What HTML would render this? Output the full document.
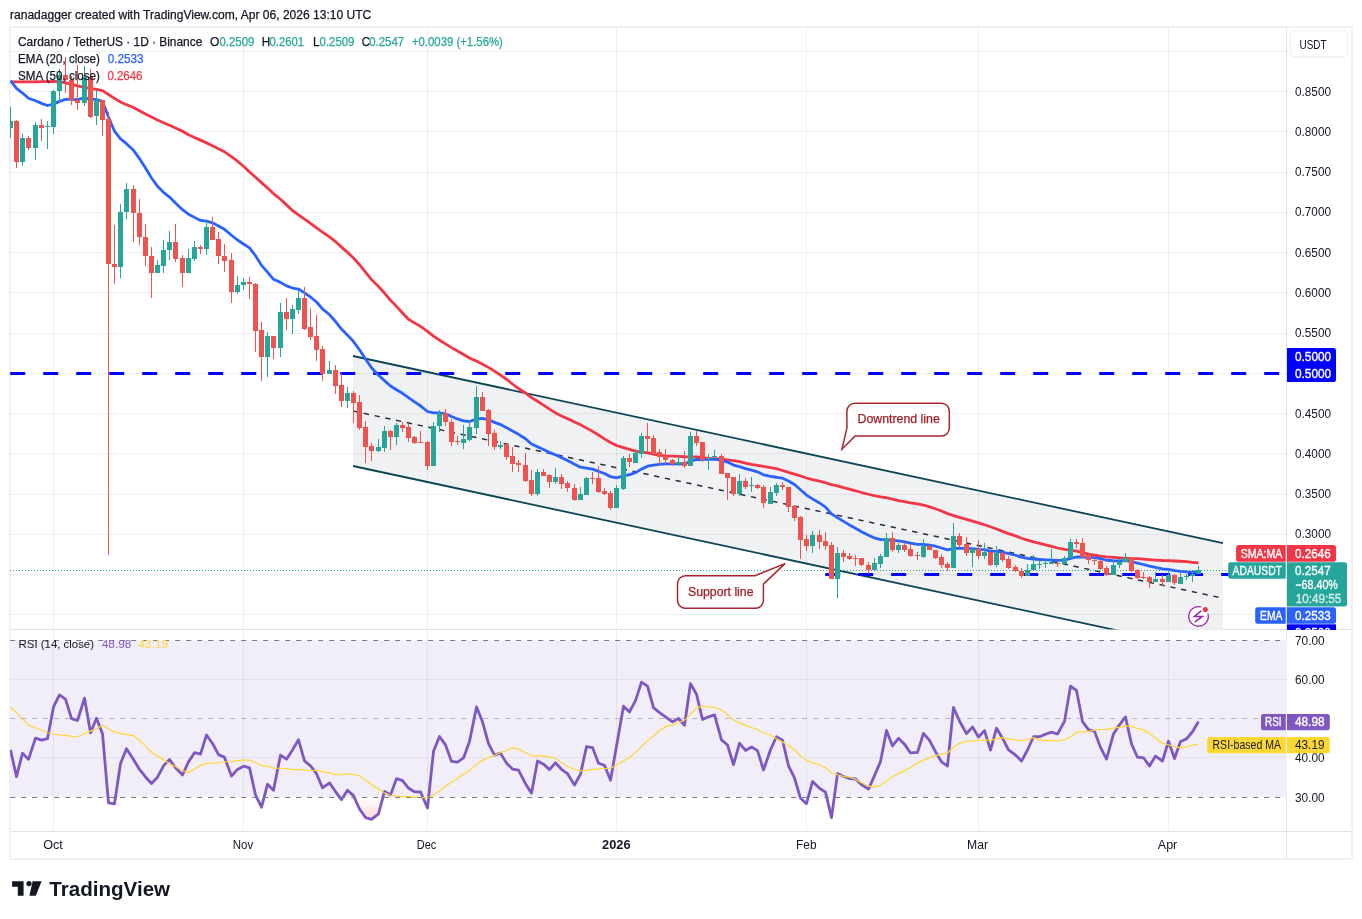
<!DOCTYPE html>
<html><head><meta charset="utf-8"><title>ADAUSDT chart</title>
<style>html,body{margin:0;padding:0;background:#fff;width:1362px;height:919px;overflow:hidden}svg{display:block;will-change:transform}</style>
</head><body><svg width="1362" height="919" viewBox="0 0 1362 919"><defs><clipPath id="cm"><rect x="10" y="27.5" width="1277" height="602.0"/></clipPath><clipPath id="cr"><rect x="10" y="630.5" width="1277" height="200.0"/></clipPath><linearGradient id="os" gradientUnits="userSpaceOnUse" x1="0" y1="797" x2="0" y2="914.75"><stop offset="0" stop-color="#f23645" stop-opacity="0"/><stop offset="1" stop-color="#f23645" stop-opacity="1"/></linearGradient></defs><path d="M1286.5 27V859M10 629.5H1351M10 831.5H1351" stroke="#dfe2e8" stroke-width="1" fill="none"/><rect x="10" y="27" width="1342" height="832" fill="none" stroke="#f1f1f2" stroke-width="2"/><g clip-path="url(#cm)"><path d="M353 356L1223 543.22L1223 653.22L353 466Z" fill="#f0f1f3"/></g><rect x="10" y="640.5" width="1277" height="156.5" fill="#f2eef9"/><path d="M10 51.5H1287 M10 91.5H1287 M10 131.5H1287 M10 172.5H1287 M10 212.5H1287 M10 252.5H1287 M10 292.5H1287 M10 333.5H1287 M10 373.5H1287 M10 413.5H1287 M10 453.5H1287 M10 494.5H1287 M10 534.5H1287 M10 574.5H1287 M10 614.5H1287 M53.5 27.5V629.5 M53.5 630.5V830.5 M243.5 27.5V629.5 M243.5 630.5V830.5 M427.5 27.5V629.5 M427.5 630.5V830.5 M616.5 27.5V629.5 M616.5 630.5V830.5 M806.5 27.5V629.5 M806.5 630.5V830.5 M978.5 27.5V629.5 M978.5 630.5V830.5 M1168.5 27.5V629.5 M1168.5 630.5V830.5 M10 679.5H1287 M10 757.5H1287" stroke="rgba(42,46,57,0.065)" stroke-width="1" fill="none"/><g clip-path="url(#cm)"><path d="M353 356L1223 543.22M353 466L1223 653.22" stroke="#0a4654" stroke-width="1.8" fill="none"/><path d="M353 411L1220 597.58" stroke="#2a2e39" stroke-width="1.5" stroke-dasharray="5.3 5.7" fill="none"/><path d="M10.2 373.5H1287" stroke="#0000ff" stroke-width="3" stroke-dasharray="15 18" fill="none"/><path d="M825.2 574.5H1287" stroke="#0000ff" stroke-width="3" stroke-dasharray="15 18" fill="none"/><path d="M10 570.5H1287" stroke="#26a69a" stroke-width="1" stroke-dasharray="1 2" fill="none"/><path d="M10.5 81.9 L16.5 81.9 L22.5 81.9 L28.5 81.88 L35.5 81.79 L41.5 81.69 L47.5 81.59 L53.5 81.34 L59.5 81.7 L65.5 82.89 L71.5 84.34 L77.5 85.82 L84.5 87.26 L90.5 88.39 L96.5 89.39 L102.5 90.69 L108.5 94.49 L114.5 98.35 L120.5 102 L126.5 104.67 L133.5 107.5 L139.5 110.77 L145.5 114.02 L151.5 117.05 L157.5 119.95 L163.5 122.67 L169.5 125.32 L175.5 127.97 L182.5 131.33 L188.5 134.75 L194.5 137.43 L200.5 140.11 L206.5 142.86 L212.5 145.66 L218.5 148.75 L224.5 151.83 L231.5 156.55 L237.5 161.2 L243.5 166.27 L249.5 171.95 L255.5 177.19 L261.5 182.62 L267.5 188.07 L273.5 193.57 L280.5 199.22 L286.5 204.87 L292.5 210.5 L298.5 214.86 L304.5 219.22 L310.5 223.36 L316.5 227.93 L322.5 232.19 L329.5 236.83 L335.5 241.59 L341.5 247.11 L347.5 252.42 L353.5 257.95 L359.5 264.69 L365.5 272.11 L371.5 279.54 L378.5 286.47 L384.5 293.03 L390.5 300.23 L396.5 306.39 L402.5 312.95 L408.5 319.31 L414.5 322.88 L420.5 326.4 L427.5 331.46 L433.5 336.21 L439.5 340.2 L445.5 343.91 L451.5 347.61 L457.5 351 L463.5 354.49 L469.5 358.02 L476.5 361.12 L482.5 364.16 L488.5 367.37 L494.5 371.15 L500.5 375.11 L506.5 379.26 L512.5 384 L518.5 388.51 L525.5 393 L531.5 397.66 L537.5 401.27 L543.5 405.08 L549.5 409.07 L555.5 412.93 L561.5 415.99 L567.5 418.62 L574.5 421.9 L580.5 424.83 L586.5 428.15 L592.5 431.35 L598.5 435.01 L604.5 438.92 L610.5 442.5 L616.5 445.52 L623.5 447.69 L629.5 449.45 L635.5 451.11 L641.5 452.12 L647.5 452.88 L653.5 454.09 L659.5 455.19 L665.5 455.83 L672.5 456.17 L678.5 456.39 L684.5 456.77 L690.5 456.87 L696.5 456.99 L702.5 457.68 L708.5 458.28 L714.5 458.65 L721.5 459.26 L727.5 459.96 L733.5 460.52 L739.5 461.62 L745.5 463.1 L751.5 464.35 L757.5 465.27 L763.5 466.48 L770.5 467.54 L776.5 468.69 L782.5 470.5 L788.5 472.42 L794.5 474.11 L800.5 475.96 L806.5 477.98 L812.5 479.54 L819.5 481.1 L825.5 482.72 L831.5 484.67 L837.5 485.87 L843.5 487.56 L849.5 489.22 L855.5 490.77 L861.5 492.53 L868.5 494.25 L874.5 495.74 L880.5 496.86 L886.5 497.74 L892.5 499.18 L898.5 500.51 L904.5 501.66 L910.5 502.9 L917.5 503.86 L923.5 505.02 L929.5 506.86 L935.5 508.77 L941.5 511 L947.5 513.63 L953.5 515.58 L959.5 517.4 L966.5 519.31 L972.5 521.09 L978.5 522.93 L984.5 524.74 L990.5 526.72 L996.5 529.06 L1002.5 531.4 L1008.5 533.57 L1015.5 535.84 L1021.5 538.22 L1027.5 540.16 L1033.5 541.89 L1039.5 543.3 L1045.5 544.94 L1051.5 546.44 L1057.5 548 L1064.5 549.41 L1070.5 550.19 L1076.5 551.21 L1082.5 552.65 L1088.5 554.11 L1094.5 555.2 L1100.5 556.22 L1106.5 556.92 L1113.5 557.31 L1119.5 557.84 L1125.5 558.17 L1131.5 558.66 L1137.5 558.64 L1143.5 559.13 L1149.5 559.65 L1155.5 560.06 L1162.5 560.51 L1168.5 560.71 L1174.5 560.98 L1180.5 561.26 L1186.5 561.67 L1192.5 562.39 L1198.5 562.8" stroke="#f23645" stroke-width="2.8" fill="none" stroke-linejoin="round"/><path d="M10.5 80.6 L16.5 88.31 L22.5 93.06 L28.5 98.24 L35.5 100.79 L41.5 103.34 L47.5 105.51 L53.5 104.12 L59.5 101.38 L65.5 99.31 L71.5 99.42 L77.5 99.73 L84.5 97.56 L90.5 99.42 L96.5 99.46 L102.5 101.39 L108.5 116.92 L114.5 131.22 L120.5 138.94 L126.5 143.71 L133.5 150.35 L139.5 158.63 L145.5 167.92 L151.5 177.95 L157.5 186.24 L163.5 192.35 L169.5 197.09 L175.5 202.95 L182.5 209.64 L188.5 214.24 L194.5 217.37 L200.5 220.41 L206.5 221.05 L212.5 222.81 L218.5 226.02 L224.5 229.32 L231.5 235.25 L237.5 240 L243.5 244.01 L249.5 247.85 L255.5 255.74 L261.5 265.37 L267.5 272.09 L273.5 279.29 L280.5 282.4 L286.5 285.86 L292.5 288.05 L298.5 289.01 L304.5 292.82 L310.5 297.02 L316.5 302.03 L322.5 308.94 L329.5 314.77 L335.5 321.51 L341.5 329.05 L347.5 335.15 L353.5 341.57 L359.5 349.81 L365.5 359.03 L371.5 367.77 L378.5 375.31 L384.5 380.61 L390.5 385.96 L396.5 389.69 L402.5 393.31 L408.5 397.55 L414.5 401.88 L420.5 405.79 L427.5 411.49 L433.5 412.88 L439.5 412.92 L445.5 413.82 L451.5 416.47 L457.5 418.94 L463.5 420.89 L469.5 421.5 L476.5 419.16 L482.5 418.36 L488.5 419.8 L494.5 422.38 L500.5 424.56 L506.5 427.63 L512.5 431.08 L518.5 434.32 L525.5 438.78 L531.5 444 L537.5 446.68 L543.5 449.43 L549.5 452.5 L555.5 454.85 L561.5 457.61 L567.5 460.53 L574.5 464.3 L580.5 467.15 L586.5 468.17 L592.5 469.16 L598.5 471.34 L604.5 473.48 L610.5 476.74 L616.5 477.82 L623.5 475.94 L629.5 474.66 L635.5 472.61 L641.5 469.13 L647.5 466.23 L653.5 465.04 L659.5 464.3 L665.5 463.92 L672.5 463.91 L678.5 463.69 L684.5 463.9 L690.5 461.25 L696.5 459.48 L702.5 459.49 L708.5 459.32 L714.5 459.04 L721.5 460.44 L727.5 462.07 L733.5 465.09 L739.5 466.63 L745.5 468.57 L751.5 470.14 L757.5 471.81 L763.5 474.78 L770.5 476.45 L776.5 477.26 L782.5 478.21 L788.5 480.94 L794.5 484.45 L800.5 489.7 L806.5 495.07 L812.5 498.85 L819.5 502.95 L825.5 507.06 L831.5 513.9 L837.5 517.65 L843.5 521.36 L849.5 524.92 L855.5 528.18 L861.5 531.69 L868.5 535.31 L874.5 537.96 L880.5 539.68 L886.5 539.53 L892.5 540.51 L898.5 540.95 L904.5 541.77 L910.5 543.12 L917.5 544.32 L923.5 544.47 L929.5 545.03 L935.5 546.23 L941.5 547.99 L947.5 549.87 L953.5 548.56 L959.5 548.18 L966.5 548.65 L972.5 548.7 L978.5 549.37 L984.5 549.64 L990.5 551.11 L996.5 551.3 L1002.5 552.09 L1008.5 553.58 L1015.5 555.26 L1021.5 557.2 L1027.5 558.47 L1033.5 559.01 L1039.5 559.51 L1045.5 559.85 L1051.5 560.07 L1057.5 560.36 L1064.5 560.16 L1070.5 558.42 L1076.5 557 L1082.5 556.96 L1088.5 557.29 L1094.5 557.66 L1100.5 558.72 L1106.5 560.26 L1113.5 560.74 L1119.5 560.81 L1125.5 560.56 L1131.5 561.53 L1137.5 563.08 L1143.5 564.51 L1149.5 566.22 L1155.5 567.46 L1162.5 568.81 L1168.5 569.41 L1174.5 570.72 L1180.5 571.35 L1186.5 571.83 L1192.5 572.03 L1198.5 571.89" stroke="#2962ff" stroke-width="2.8" fill="none" stroke-linejoin="round"/><path d="M10 107h1v31h-1ZM22 134h1v32h-1ZM35 122h1v38h-1ZM47 121h1v28h-1ZM53 90h1v44h-1ZM59 69h1v33h-1ZM84 66h1v40h-1ZM96 90h1v35h-1ZM120 204h1v74h-1ZM126 183h1v36h-1ZM157 260h1v13h-1ZM163 240h1v33h-1ZM169 231h1v29h-1ZM188 249h1v24h-1ZM194 241h1v20h-1ZM206 221h1v34h-1ZM237 276h1v18h-1ZM243 278h1v12h-1ZM267 332h1v45h-1ZM280 303h1v54h-1ZM292 305h1v29h-1ZM298 290h1v24h-1ZM329 361h1v13h-1ZM347 387h1v21h-1ZM378 439h1v13h-1ZM384 426h1v26h-1ZM396 423h1v22h-1ZM433 422h1v44h-1ZM439 410h1v22h-1ZM463 425h1v24h-1ZM469 420h1v21h-1ZM476 386h1v48h-1ZM500 441h1v8h-1ZM537 469h1v27h-1ZM555 468h1v16h-1ZM580 487h1v13h-1ZM586 477h1v18h-1ZM616 485h1v23h-1ZM623 456h1v34h-1ZM635 449h1v14h-1ZM641 433h1v25h-1ZM678 456h1v10h-1ZM690 432h1v34h-1ZM708 454h1v16h-1ZM714 450h1v8h-1ZM739 474h1v22h-1ZM751 477h1v15h-1ZM770 487h1v17h-1ZM776 483h1v13h-1ZM812 531h1v22h-1ZM837 547h1v51h-1ZM874 558h1v12h-1ZM880 554h1v14h-1ZM886 533h1v24h-1ZM898 543h1v10h-1ZM923 539h1v19h-1ZM953 523h1v45h-1ZM972 547h1v20h-1ZM984 543h1v16h-1ZM996 546h1v21h-1ZM1027 564h1v12h-1ZM1033 555h1v15h-1ZM1039 560h1v9h-1ZM1045 560h1v8h-1ZM1051 549h1v15h-1ZM1064 556h1v8h-1ZM1070 539h1v19h-1ZM1113 560h1v15h-1ZM1119 559h1v9h-1ZM1125 553h1v9h-1ZM1155 572h1v10h-1ZM1168 570h1v12h-1ZM1180 573h1v11h-1ZM1186 574h1v6h-1ZM1192 572h1v10h-1ZM1198 566h1v8h-1Z" fill="#26a69a"/><path d="M16 120h1v48h-1ZM28 136h1v14h-1ZM41 119h1v22h-1ZM65 57h1v36h-1ZM71 76h1v29h-1ZM77 65h1v45h-1ZM90 69h1v49h-1ZM102 100h1v36h-1ZM108 112h1v443h-1ZM114 225h1v59h-1ZM133 185h1v57h-1ZM139 199h1v46h-1ZM145 224h1v42h-1ZM151 247h1v51h-1ZM175 224h1v38h-1ZM182 255h1v32h-1ZM200 245h1v9h-1ZM212 217h1v23h-1ZM218 232h1v32h-1ZM224 244h1v28h-1ZM231 253h1v50h-1ZM249 277h1v22h-1ZM255 283h1v69h-1ZM261 322h1v59h-1ZM273 336h1v23h-1ZM286 298h1v32h-1ZM304 287h1v43h-1ZM310 308h1v32h-1ZM316 315h1v46h-1ZM322 346h1v35h-1ZM335 365h1v29h-1ZM341 373h1v34h-1ZM353 391h1v32h-1ZM359 395h1v35h-1ZM365 421h1v42h-1ZM371 443h1v18h-1ZM390 430h1v20h-1ZM402 422h1v10h-1ZM408 424h1v18h-1ZM414 436h1v8h-1ZM420 431h1v12h-1ZM427 441h1v29h-1ZM445 409h1v17h-1ZM451 419h1v27h-1ZM457 436h1v9h-1ZM482 392h1v19h-1ZM488 409h1v37h-1ZM494 430h1v20h-1ZM506 444h1v16h-1ZM512 447h1v25h-1ZM518 460h1v12h-1ZM525 453h1v29h-1ZM531 470h1v26h-1ZM543 469h1v7h-1ZM549 474h1v14h-1ZM561 474h1v15h-1ZM567 481h1v11h-1ZM574 484h1v17h-1ZM592 472h1v12h-1ZM598 466h1v27h-1ZM604 488h1v7h-1ZM610 491h1v19h-1ZM629 454h1v13h-1ZM647 423h1v29h-1ZM653 435h1v19h-1ZM659 449h1v17h-1ZM665 449h1v15h-1ZM672 459h1v7h-1ZM684 451h1v17h-1ZM696 431h1v15h-1ZM702 442h1v20h-1ZM721 454h1v20h-1ZM727 473h1v27h-1ZM733 477h1v19h-1ZM745 478h1v11h-1ZM757 484h1v5h-1ZM763 485h1v23h-1ZM782 482h1v8h-1ZM788 487h1v25h-1ZM794 505h1v16h-1ZM800 516h1v43h-1ZM806 535h1v16h-1ZM819 530h1v19h-1ZM825 532h1v18h-1ZM831 542h1v37h-1ZM843 550h1v12h-1ZM849 553h1v7h-1ZM855 555h1v11h-1ZM861 558h1v8h-1ZM868 562h1v12h-1ZM892 532h1v20h-1ZM904 542h1v10h-1ZM910 544h1v13h-1ZM917 552h1v8h-1ZM929 545h1v5h-1ZM935 550h1v9h-1ZM941 554h1v14h-1ZM947 562h1v9h-1ZM959 533h1v15h-1ZM966 537h1v19h-1ZM978 540h1v19h-1ZM990 552h1v14h-1ZM1002 552h1v10h-1ZM1008 556h1v13h-1ZM1015 565h1v7h-1ZM1021 568h1v10h-1ZM1057 561h1v6h-1ZM1076 539h1v9h-1ZM1082 538h1v20h-1ZM1088 553h1v11h-1ZM1094 556h1v9h-1ZM1100 560h1v10h-1ZM1106 566h1v10h-1ZM1131 558h1v14h-1ZM1137 569h1v10h-1ZM1143 572h1v7h-1ZM1149 576h1v12h-1ZM1162 575h1v11h-1ZM1174 574h1v11h-1Z" fill="#ef5350"/><path d="M8 121h5v7h-5ZM20 138h5v24h-5ZM33 125h5v23h-5ZM45 126h5v1h-5ZM51 91h5v36h-5ZM57 75h5v16h-5ZM82 77h5v26h-5ZM94 100h5v16h-5ZM118 212h5v55h-5ZM124 189h5v23h-5ZM155 265h5v8h-5ZM161 250h5v16h-5ZM167 242h5v8h-5ZM186 258h5v15h-5ZM192 247h5v12h-5ZM204 227h5v22h-5ZM235 285h5v7h-5ZM241 282h5v3h-5ZM265 336h5v21h-5ZM278 312h5v36h-5ZM290 309h5v10h-5ZM296 298h5v12h-5ZM327 370h5v4h-5ZM345 393h5v8h-5ZM376 447h5v4h-5ZM382 431h5v17h-5ZM394 425h5v12h-5ZM431 426h5v40h-5ZM437 413h5v13h-5ZM461 439h5v4h-5ZM467 427h5v13h-5ZM474 397h5v31h-5ZM498 445h5v2h-5ZM535 472h5v22h-5ZM553 477h5v5h-5ZM578 494h5v6h-5ZM584 478h5v17h-5ZM614 488h5v20h-5ZM621 458h5v31h-5ZM633 453h5v10h-5ZM639 436h5v18h-5ZM676 462h5v2h-5ZM688 436h5v30h-5ZM706 458h5v1h-5ZM712 456h5v1h-5ZM737 481h5v13h-5ZM749 485h5v1h-5ZM768 492h5v12h-5ZM774 485h5v8h-5ZM810 535h5v11h-5ZM835 553h5v26h-5ZM872 563h5v7h-5ZM878 556h5v8h-5ZM884 538h5v19h-5ZM896 545h5v5h-5ZM921 546h5v11h-5ZM951 536h5v32h-5ZM970 549h5v4h-5ZM982 552h5v4h-5ZM994 553h5v12h-5ZM1025 570h5v6h-5ZM1031 564h5v6h-5ZM1037 564h5v1h-5ZM1043 563h5v1h-5ZM1049 562h5v2h-5ZM1062 558h5v6h-5ZM1068 542h5v16h-5ZM1111 565h5v10h-5ZM1117 562h5v3h-5ZM1123 558h5v4h-5ZM1153 579h5v3h-5ZM1166 575h5v7h-5ZM1178 577h5v7h-5ZM1184 576h5v1h-5ZM1190 574h5v2h-5ZM1196 570h5v4h-5Z" fill="#26a69a"/><path d="M14 121h5v41h-5ZM26 138h5v10h-5ZM39 125h5v3h-5ZM63 75h5v5h-5ZM69 80h5v20h-5ZM75 100h5v3h-5ZM88 77h5v40h-5ZM100 100h5v20h-5ZM106 119h5v145h-5ZM112 264h5v3h-5ZM131 189h5v24h-5ZM137 213h5v24h-5ZM143 237h5v19h-5ZM149 256h5v17h-5ZM173 242h5v17h-5ZM180 258h5v15h-5ZM198 247h5v2h-5ZM210 227h5v13h-5ZM216 239h5v17h-5ZM222 256h5v5h-5ZM229 260h5v32h-5ZM247 282h5v2h-5ZM253 284h5v47h-5ZM259 330h5v27h-5ZM271 336h5v12h-5ZM284 312h5v7h-5ZM302 298h5v31h-5ZM308 327h5v10h-5ZM314 336h5v14h-5ZM320 349h5v25h-5ZM333 370h5v16h-5ZM339 385h5v16h-5ZM351 393h5v10h-5ZM357 402h5v26h-5ZM363 427h5v20h-5ZM369 446h5v5h-5ZM388 431h5v6h-5ZM400 425h5v3h-5ZM406 427h5v11h-5ZM412 437h5v6h-5ZM418 442h5v1h-5ZM425 442h5v24h-5ZM443 413h5v9h-5ZM449 422h5v20h-5ZM455 441h5v1h-5ZM480 397h5v14h-5ZM486 410h5v24h-5ZM492 433h5v14h-5ZM504 444h5v13h-5ZM510 456h5v8h-5ZM516 463h5v2h-5ZM523 465h5v16h-5ZM529 480h5v14h-5ZM541 472h5v4h-5ZM547 475h5v7h-5ZM559 477h5v7h-5ZM565 483h5v5h-5ZM572 488h5v12h-5ZM590 478h5v1h-5ZM596 478h5v14h-5ZM602 491h5v3h-5ZM608 493h5v15h-5ZM627 458h5v4h-5ZM645 436h5v3h-5ZM651 438h5v16h-5ZM657 452h5v5h-5ZM663 456h5v4h-5ZM670 460h5v4h-5ZM682 462h5v4h-5ZM694 436h5v7h-5ZM700 442h5v18h-5ZM719 456h5v18h-5ZM725 473h5v5h-5ZM731 477h5v17h-5ZM743 481h5v6h-5ZM755 485h5v3h-5ZM761 487h5v16h-5ZM780 485h5v2h-5ZM786 487h5v20h-5ZM792 506h5v12h-5ZM798 517h5v23h-5ZM804 539h5v7h-5ZM817 535h5v7h-5ZM823 541h5v5h-5ZM829 545h5v34h-5ZM841 553h5v4h-5ZM847 556h5v3h-5ZM853 558h5v1h-5ZM859 558h5v7h-5ZM866 565h5v5h-5ZM890 538h5v12h-5ZM902 545h5v5h-5ZM908 549h5v7h-5ZM915 555h5v1h-5ZM927 546h5v4h-5ZM933 550h5v8h-5ZM939 557h5v8h-5ZM945 564h5v4h-5ZM957 536h5v9h-5ZM964 544h5v9h-5ZM976 549h5v7h-5ZM988 552h5v13h-5ZM1000 553h5v7h-5ZM1006 559h5v9h-5ZM1013 567h5v4h-5ZM1019 571h5v5h-5ZM1055 563h5v1h-5ZM1074 542h5v2h-5ZM1080 543h5v14h-5ZM1086 555h5v5h-5ZM1092 560h5v1h-5ZM1098 561h5v8h-5ZM1104 568h5v7h-5ZM1129 558h5v13h-5ZM1135 570h5v8h-5ZM1141 577h5v1h-5ZM1147 577h5v5h-5ZM1160 579h5v3h-5ZM1172 575h5v8h-5Z" fill="#ef5350"/></g><path d="M855 403.2H941.3a8 8 0 0 1 8 8V428.1a8 8 0 0 1 -8 8H855L842 449.2L846.9 427.9V411.2a8 8 0 0 1 8 -8Z" fill="#fff" stroke="#a8262c" stroke-width="1.5"/><g font-family='"Liberation Sans", sans-serif' stroke="#a11f26" stroke-width="0.25"><text x="857.5" y="423" font-size="12.2" fill="#a11f26" textLength="82.3" lengthAdjust="spacingAndGlyphs">Downtrend line</text></g><path d="M685.5 575.7H755L785 563.6L763.4 584.1V600.3a8 8 0 0 1 -8 8H685.5a8 8 0 0 1 -8 -8V583.7a8 8 0 0 1 8 -8Z" fill="#fff" stroke="#a8262c" stroke-width="1.5"/><g font-family='"Liberation Sans", sans-serif' stroke="#a11f26" stroke-width="0.25"><text x="688" y="596" font-size="12.2" fill="#a11f26" textLength="65.5" lengthAdjust="spacingAndGlyphs">Support line</text></g><g><circle cx="1198.5" cy="616.4" r="11" fill="#fff"/><path d="M1208.01 614.05A9.8 9.8 0 1 1 1200.75 606.86" stroke="#9c27b0" stroke-width="1.35" stroke-linecap="round" fill="none"/><circle cx="1205.35" cy="609.45" r="2.55" fill="#f23645"/><path d="M1200.8 611.2L1194.5 616.45H1202.3L1195.3 621.7" stroke="#9c27b0" stroke-width="1.6" stroke-linejoin="miter" stroke-linecap="round" fill="none"/></g><g clip-path="url(#cr)"><clipPath id="below30"><rect x="10" y="797" width="1277" height="40"/></clipPath><path d="M10.5 749.9 L16.5 776.6 L22.5 753.22 L28.5 759.37 L35.5 738.18 L41.5 740.12 L47.5 738.64 L53.5 706.95 L59.5 694.96 L65.5 699.05 L71.5 718.59 L77.5 720.5 L84.5 698.08 L90.5 732.79 L96.5 718.21 L102.5 733.74 L108.5 802.97 L114.5 803.79 L120.5 763.57 L126.5 748.76 L133.5 759.51 L139.5 769.43 L145.5 776.94 L151.5 783.5 L157.5 777.19 L163.5 765.91 L169.5 759.48 L175.5 767.78 L182.5 774.91 L188.5 761.88 L194.5 752.71 L200.5 754.05 L206.5 734.97 L212.5 743.45 L218.5 754.61 L224.5 757.33 L231.5 776.04 L237.5 769.39 L243.5 766.21 L249.5 767.77 L255.5 795.05 L261.5 807.17 L267.5 784.29 L273.5 790.36 L280.5 755.05 L286.5 759.19 L292.5 749.89 L298.5 739.76 L304.5 760.86 L310.5 765.81 L316.5 773.71 L322.5 787.78 L329.5 782.92 L335.5 791.55 L341.5 799.62 L347.5 790.18 L353.5 795.63 L359.5 809.03 L365.5 817.56 L371.5 819.44 L378.5 813.8 L384.5 791.36 L390.5 794.98 L396.5 778.64 L402.5 780.56 L408.5 788.05 L414.5 791.86 L420.5 791.86 L427.5 808.02 L433.5 751.32 L439.5 736.49 L445.5 744.91 L451.5 761.37 L457.5 762.04 L463.5 757.91 L469.5 741.54 L476.5 706.94 L482.5 721.77 L488.5 743.65 L494.5 755.1 L500.5 753.12 L506.5 763.13 L512.5 769.05 L518.5 770.18 L525.5 783.72 L531.5 793.17 L537.5 761.03 L543.5 764.16 L549.5 769.62 L555.5 762.73 L561.5 769.27 L567.5 773.73 L574.5 784.95 L580.5 774.16 L586.5 746.71 L592.5 747.55 L598.5 763.22 L604.5 765.24 L610.5 780.2 L616.5 746.18 L623.5 706.19 L629.5 711.91 L635.5 700.65 L641.5 682.16 L647.5 686.06 L653.5 707.66 L659.5 712.59 L665.5 716.82 L672.5 721.9 L678.5 718.49 L684.5 725.29 L690.5 683.57 L696.5 694.22 L702.5 719.53 L708.5 716.84 L714.5 714.91 L721.5 739.83 L727.5 744.97 L733.5 764.7 L739.5 743.2 L745.5 750.42 L751.5 747.08 L757.5 750.62 L763.5 770 L770.5 749.77 L776.5 736.73 L782.5 740.22 L788.5 765.8 L794.5 777.98 L800.5 798.3 L806.5 803.6 L812.5 781.5 L819.5 788.23 L825.5 792.17 L831.5 817.62 L837.5 773.59 L843.5 776.52 L849.5 778.5 L855.5 778.78 L861.5 784.65 L868.5 789.12 L874.5 775.66 L880.5 761.66 L886.5 730.44 L892.5 745.94 L898.5 738.25 L904.5 744.15 L910.5 752.96 L917.5 752.37 L923.5 733.36 L929.5 740.33 L935.5 751.67 L941.5 761.81 L947.5 766.07 L953.5 707.48 L959.5 720.97 L966.5 733.66 L972.5 727.04 L978.5 737.03 L984.5 730.6 L990.5 750.17 L996.5 728.24 L1002.5 738.15 L1008.5 749.91 L1015.5 755 L1021.5 761.1 L1027.5 749.99 L1033.5 736.71 L1039.5 736.71 L1045.5 734.21 L1051.5 732.06 L1057.5 734.04 L1064.5 721.38 L1070.5 686.27 L1076.5 690.45 L1082.5 721.61 L1088.5 729.64 L1094.5 731.37 L1100.5 747.37 L1106.5 759.11 L1113.5 733.95 L1119.5 724.78 L1125.5 716.89 L1131.5 744.01 L1137.5 757.22 L1143.5 757.77 L1149.5 766.01 L1155.5 756.1 L1162.5 760.99 L1168.5 741.27 L1174.5 758.58 L1180.5 741.43 L1186.5 738.84 L1192.5 731.75 L1198.5 721.51 L1198.5 797 L10.5 797Z" fill="url(#os)" clip-path="url(#below30)"/></g><g clip-path="url(#cr)"><path d="M10.5 749.9 L16.5 776.6 L22.5 753.22 L28.5 759.37 L35.5 738.18 L41.5 740.12 L47.5 738.64 L53.5 706.95 L59.5 694.96 L65.5 699.05 L71.5 718.59 L77.5 720.5 L84.5 698.08 L90.5 732.79 L96.5 718.21 L102.5 733.74 L108.5 802.97 L114.5 803.79 L120.5 763.57 L126.5 748.76 L133.5 759.51 L139.5 769.43 L145.5 776.94 L151.5 783.5 L157.5 777.19 L163.5 765.91 L169.5 759.48 L175.5 767.78 L182.5 774.91 L188.5 761.88 L194.5 752.71 L200.5 754.05 L206.5 734.97 L212.5 743.45 L218.5 754.61 L224.5 757.33 L231.5 776.04 L237.5 769.39 L243.5 766.21 L249.5 767.77 L255.5 795.05 L261.5 807.17 L267.5 784.29 L273.5 790.36 L280.5 755.05 L286.5 759.19 L292.5 749.89 L298.5 739.76 L304.5 760.86 L310.5 765.81 L316.5 773.71 L322.5 787.78 L329.5 782.92 L335.5 791.55 L341.5 799.62 L347.5 790.18 L353.5 795.63 L359.5 809.03 L365.5 817.56 L371.5 819.44 L378.5 813.8 L384.5 791.36 L390.5 794.98 L396.5 778.64 L402.5 780.56 L408.5 788.05 L414.5 791.86 L420.5 791.86 L427.5 808.02 L433.5 751.32 L439.5 736.49 L445.5 744.91 L451.5 761.37 L457.5 762.04 L463.5 757.91 L469.5 741.54 L476.5 706.94 L482.5 721.77 L488.5 743.65 L494.5 755.1 L500.5 753.12 L506.5 763.13 L512.5 769.05 L518.5 770.18 L525.5 783.72 L531.5 793.17 L537.5 761.03 L543.5 764.16 L549.5 769.62 L555.5 762.73 L561.5 769.27 L567.5 773.73 L574.5 784.95 L580.5 774.16 L586.5 746.71 L592.5 747.55 L598.5 763.22 L604.5 765.24 L610.5 780.2 L616.5 746.18 L623.5 706.19 L629.5 711.91 L635.5 700.65 L641.5 682.16 L647.5 686.06 L653.5 707.66 L659.5 712.59 L665.5 716.82 L672.5 721.9 L678.5 718.49 L684.5 725.29 L690.5 683.57 L696.5 694.22 L702.5 719.53 L708.5 716.84 L714.5 714.91 L721.5 739.83 L727.5 744.97 L733.5 764.7 L739.5 743.2 L745.5 750.42 L751.5 747.08 L757.5 750.62 L763.5 770 L770.5 749.77 L776.5 736.73 L782.5 740.22 L788.5 765.8 L794.5 777.98 L800.5 798.3 L806.5 803.6 L812.5 781.5 L819.5 788.23 L825.5 792.17 L831.5 817.62 L837.5 773.59 L843.5 776.52 L849.5 778.5 L855.5 778.78 L861.5 784.65 L868.5 789.12 L874.5 775.66 L880.5 761.66 L886.5 730.44 L892.5 745.94 L898.5 738.25 L904.5 744.15 L910.5 752.96 L917.5 752.37 L923.5 733.36 L929.5 740.33 L935.5 751.67 L941.5 761.81 L947.5 766.07 L953.5 707.48 L959.5 720.97 L966.5 733.66 L972.5 727.04 L978.5 737.03 L984.5 730.6 L990.5 750.17 L996.5 728.24 L1002.5 738.15 L1008.5 749.91 L1015.5 755 L1021.5 761.1 L1027.5 749.99 L1033.5 736.71 L1039.5 736.71 L1045.5 734.21 L1051.5 732.06 L1057.5 734.04 L1064.5 721.38 L1070.5 686.27 L1076.5 690.45 L1082.5 721.61 L1088.5 729.64 L1094.5 731.37 L1100.5 747.37 L1106.5 759.11 L1113.5 733.95 L1119.5 724.78 L1125.5 716.89 L1131.5 744.01 L1137.5 757.22 L1143.5 757.77 L1149.5 766.01 L1155.5 756.1 L1162.5 760.99 L1168.5 741.27 L1174.5 758.58 L1180.5 741.43 L1186.5 738.84 L1192.5 731.75 L1198.5 721.51" stroke="#7e57c2" stroke-width="2.8" fill="none" stroke-linejoin="round"/><path d="M10.5 707 L16.5 712.93 L22.5 719.05 L28.5 725.18 L35.5 727.76 L41.5 730.28 L47.5 732.79 L53.5 734.27 L59.5 734.79 L65.5 735.4 L71.5 736.3 L77.5 736.75 L84.5 733.53 L90.5 731.09 L96.5 728.87 L102.5 725.17 L108.5 728.72 L114.5 731.9 L120.5 733.71 L126.5 734.33 L133.5 735.82 L139.5 740.28 L145.5 746.14 L151.5 752.17 L157.5 756.36 L163.5 759.6 L169.5 763.98 L175.5 766.48 L182.5 770.53 L188.5 772.54 L194.5 768.96 L200.5 765.4 L206.5 763.36 L212.5 762.98 L218.5 762.63 L224.5 761.77 L231.5 761.7 L237.5 760.69 L243.5 759.91 L249.5 760.04 L255.5 762.58 L261.5 765.4 L267.5 766.07 L273.5 768.1 L280.5 768.27 L286.5 768.63 L292.5 769.7 L298.5 769.44 L304.5 769.88 L310.5 770.49 L316.5 770.32 L322.5 771.64 L329.5 772.83 L335.5 774.53 L341.5 774.85 L347.5 773.64 L353.5 774.45 L359.5 775.78 L365.5 780.25 L371.5 784.55 L378.5 789.12 L384.5 792.8 L390.5 795.24 L396.5 796.16 L402.5 796.65 L408.5 796.67 L414.5 797.3 L420.5 797.33 L427.5 797.93 L433.5 795.15 L439.5 790.93 L445.5 786.35 L451.5 782.33 L457.5 778.23 L463.5 774.24 L469.5 770.68 L476.5 764.39 L482.5 760.33 L488.5 757.7 L494.5 755.34 L500.5 752.57 L506.5 750.52 L512.5 747.74 L518.5 749.09 L525.5 752.46 L531.5 755.91 L537.5 755.88 L543.5 756.03 L549.5 756.87 L555.5 758.38 L561.5 762.84 L567.5 766.55 L574.5 769.5 L580.5 770.86 L586.5 770.4 L592.5 769.29 L598.5 768.87 L604.5 768.52 L610.5 768.27 L616.5 764.91 L623.5 760.99 L629.5 757.26 L635.5 752.34 L641.5 746.58 L647.5 740.64 L653.5 735.92 L659.5 730.75 L665.5 726.65 L672.5 724.88 L678.5 722.8 L684.5 720.1 L690.5 714.26 L696.5 708.12 L702.5 706.22 L708.5 706.98 L714.5 707.19 L721.5 709.99 L727.5 714.48 L733.5 720.1 L739.5 722.63 L745.5 725.34 L751.5 727.5 L757.5 729.55 L763.5 733.23 L770.5 734.98 L776.5 738.77 L782.5 742.06 L788.5 745.36 L794.5 749.73 L800.5 755.69 L806.5 760.24 L812.5 762.85 L819.5 764.53 L825.5 768.03 L831.5 772.83 L837.5 774.72 L843.5 776.57 L849.5 777.18 L855.5 779.25 L861.5 782.68 L868.5 786.17 L874.5 786.87 L880.5 785.71 L886.5 780.86 L892.5 776.74 L898.5 773.65 L904.5 770.5 L910.5 767.7 L917.5 763.04 L923.5 760.17 L929.5 757.58 L935.5 755.67 L941.5 754.45 L947.5 753.13 L953.5 747.3 L959.5 743.39 L966.5 741.39 L972.5 741.15 L978.5 740.51 L984.5 739.96 L990.5 740.39 L996.5 738.63 L1002.5 737.61 L1008.5 738.8 L1015.5 739.84 L1021.5 740.52 L1027.5 739.67 L1033.5 737.58 L1039.5 739.66 L1045.5 740.61 L1051.5 740.5 L1057.5 741 L1064.5 739.88 L1070.5 736.71 L1076.5 732.44 L1082.5 731.97 L1088.5 731.36 L1094.5 730.04 L1100.5 729.49 L1106.5 729.35 L1113.5 728.21 L1119.5 727.35 L1125.5 725.94 L1131.5 726.64 L1137.5 728.44 L1143.5 730.13 L1149.5 733.32 L1155.5 738.31 L1162.5 743.34 L1168.5 744.75 L1174.5 746.82 L1180.5 747.53 L1186.5 746.93 L1192.5 744.97 L1198.5 744.08" stroke="#fdd835" stroke-width="1.2" fill="none"/></g><path d="M10.2 640.5H1285.5" stroke="#787b86" stroke-opacity="1" stroke-width="1" stroke-dasharray="5 6" fill="none"/><path d="M10.2 718.5H1285.5" stroke="#787b86" stroke-opacity="0.5" stroke-width="1" stroke-dasharray="5 6" fill="none"/><path d="M10.2 797.5H1285.5" stroke="#787b86" stroke-opacity="1" stroke-width="1" stroke-dasharray="5 6" fill="none"/><g font-family='"Liberation Sans", sans-serif'><text x="1295" y="96" font-size="12" fill="#131722" textLength="36" lengthAdjust="spacingAndGlyphs">0.8500</text><text x="1295" y="136" font-size="12" fill="#131722" textLength="36" lengthAdjust="spacingAndGlyphs">0.8000</text><text x="1295" y="176" font-size="12" fill="#131722" textLength="36" lengthAdjust="spacingAndGlyphs">0.7500</text><text x="1295" y="216" font-size="12" fill="#131722" textLength="36" lengthAdjust="spacingAndGlyphs">0.7000</text><text x="1295" y="257" font-size="12" fill="#131722" textLength="36" lengthAdjust="spacingAndGlyphs">0.6500</text><text x="1295" y="297" font-size="12" fill="#131722" textLength="36" lengthAdjust="spacingAndGlyphs">0.6000</text><text x="1295" y="337" font-size="12" fill="#131722" textLength="36" lengthAdjust="spacingAndGlyphs">0.5500</text><text x="1295" y="418" font-size="12" fill="#131722" textLength="36" lengthAdjust="spacingAndGlyphs">0.4500</text><text x="1295" y="458" font-size="12" fill="#131722" textLength="36" lengthAdjust="spacingAndGlyphs">0.4000</text><text x="1295" y="498" font-size="12" fill="#131722" textLength="36" lengthAdjust="spacingAndGlyphs">0.3500</text><text x="1295" y="538" font-size="12" fill="#131722" textLength="36" lengthAdjust="spacingAndGlyphs">0.3000</text><text x="1295" y="645" font-size="12" fill="#131722" textLength="29.6" lengthAdjust="spacingAndGlyphs">70.00</text><text x="1295" y="684" font-size="12" fill="#131722" textLength="29.6" lengthAdjust="spacingAndGlyphs">60.00</text><text x="1295" y="762" font-size="12" fill="#131722" textLength="29.6" lengthAdjust="spacingAndGlyphs">40.00</text><text x="1295" y="802" font-size="12" fill="#131722" textLength="29.6" lengthAdjust="spacingAndGlyphs">30.00</text></g><rect x="1290.3" y="31" width="57" height="25.8" rx="4.5" fill="#fff" stroke="#eeeff1" stroke-width="1.2"/><g font-family='"Liberation Sans", sans-serif'><text x="1299.5" y="49.1" font-size="12" fill="#131722" textLength="27" lengthAdjust="spacingAndGlyphs">USDT</text></g><g font-family='"Liberation Sans", sans-serif' stroke-width="0.35"><path d="M1287 348H1333.5Q1336 348 1336 350.5V379.5Q1336 382 1333.5 382H1287Z" fill="#0000ff"/><text x="1295" y="361" font-size="12.5" fill="#fff" stroke="#fff" textLength="36.2" lengthAdjust="spacingAndGlyphs">0.5000</text><text x="1295" y="378" font-size="12.5" fill="#fff" stroke="#fff" textLength="36.2" lengthAdjust="spacingAndGlyphs">0.5000</text><path d="M1285.7 545.1H1238.6Q1236.1 545.1 1236.1 547.6V559.2Q1236.1 561.7 1238.6 561.7H1285.7Z" fill="#f23645"/><text x="1240.7" y="557.8" font-size="12" fill="#fff" stroke="#fff" textLength="41.6" lengthAdjust="spacingAndGlyphs">SMA:MA</text><path d="M1287 545.1H1333.5Q1336 545.1 1336 547.6V559.2Q1336 561.7 1333.5 561.7H1287Z" fill="#f23645"/><text x="1295" y="557.8" font-size="12" fill="#fff" stroke="#fff" textLength="35.6" lengthAdjust="spacingAndGlyphs">0.2646</text><path d="M1285.7 562.3H1230.7Q1228.2 562.3 1228.2 564.8V576.2Q1228.2 578.7 1230.7 578.7H1285.7Z" fill="#26a69a"/><text x="1232.6" y="574.8" font-size="12" fill="#fff" stroke="#fff" textLength="49.3" lengthAdjust="spacingAndGlyphs">ADAUSDT</text><path d="M1287 562.3H1344.5Q1347 562.3 1347 564.8V604.1Q1347 606.6 1344.5 606.6H1287Z" fill="#26a69a"/><text x="1295" y="574.8" font-size="12" fill="#fff" stroke="#fff" textLength="35.6" lengthAdjust="spacingAndGlyphs">0.2547</text><text x="1295.3" y="588.8" font-size="12" fill="#fff" stroke="#fff" textLength="42.6" lengthAdjust="spacingAndGlyphs">−68.40%</text><text x="1295.7" y="602.5" font-size="12" fill="#d3eeeb" stroke="#d3eeeb" textLength="45.6" lengthAdjust="spacingAndGlyphs">10:49:55</text><path d="M1285.7 607.3H1257.7Q1255.2 607.3 1255.2 609.8V621.3Q1255.2 623.8 1257.7 623.8H1285.7Z" fill="#2962ff"/><text x="1260.1" y="619.5" font-size="12" fill="#fff" stroke="#fff" textLength="22.2" lengthAdjust="spacingAndGlyphs">EMA</text><path d="M1287 607.3H1333.5Q1336 607.3 1336 609.8V621.3Q1336 623.8 1333.5 623.8H1287Z" fill="#2962ff"/><text x="1295" y="619.5" font-size="12" fill="#fff" stroke="#fff" textLength="35.6" lengthAdjust="spacingAndGlyphs">0.2533</text><clipPath id="c25"><rect x="1287" y="624.3" width="49" height="5.2"/></clipPath><g clip-path="url(#c25)"><rect x="1287" y="624.3" width="49" height="17" fill="#0000ff"/><text x="1295" y="636.6" font-size="12" fill="#fff" stroke="#fff" textLength="35.6" lengthAdjust="spacingAndGlyphs">0.2500</text></g><path d="M1285.8 713.9H1263.5Q1261 713.9 1261 716.4V727.8Q1261 730.3 1263.5 730.3H1285.8Z" fill="#7e57c2"/><text x="1265" y="726.2" font-size="12" fill="#fff" stroke="#fff" textLength="16.5" lengthAdjust="spacingAndGlyphs">RSI</text><path d="M1287 713.9H1327.3Q1329.8 713.9 1329.8 716.4V727.8Q1329.8 730.3 1327.3 730.3H1287Z" fill="#7e57c2"/><text x="1295" y="726.2" font-size="12" fill="#fff" stroke="#fff" textLength="29.5" lengthAdjust="spacingAndGlyphs">48.98</text><path d="M1285.8 737H1209.6Q1207.1 737 1207.1 739.5V750.8Q1207.1 753.3 1209.6 753.3H1285.8Z" fill="#fdd835"/><text x="1212.5" y="749.3" font-size="12" fill="#131722" textLength="68.5" lengthAdjust="spacingAndGlyphs">RSI-based MA</text><path d="M1287 737H1327.3Q1329.8 737 1329.8 739.5V750.8Q1329.8 753.3 1327.3 753.3H1287Z" fill="#fdd835"/><text x="1295" y="749.3" font-size="12" fill="#131722" textLength="29.5" lengthAdjust="spacingAndGlyphs">43.19</text></g><g font-family='"Liberation Sans", sans-serif'><text x="43.2" y="849" font-size="12.8" fill="#131722" textLength="19.7" lengthAdjust="spacingAndGlyphs">Oct</text><text x="232.8" y="849" font-size="12.8" fill="#131722" textLength="20.4" lengthAdjust="spacingAndGlyphs">Nov</text><text x="416.8" y="849" font-size="12.8" fill="#131722" textLength="19.5" lengthAdjust="spacingAndGlyphs">Dec</text><text x="602.1" y="849" font-size="12.8" fill="#131722" textLength="28.4" lengthAdjust="spacingAndGlyphs" font-weight="bold">2026</text><text x="796.1" y="849" font-size="12.8" fill="#131722" textLength="20.4" lengthAdjust="spacingAndGlyphs">Feb</text><text x="967" y="849" font-size="12.8" fill="#131722" textLength="21" lengthAdjust="spacingAndGlyphs">Mar</text><text x="1157.8" y="849" font-size="12.8" fill="#131722" textLength="19.5" lengthAdjust="spacingAndGlyphs">Apr</text></g><g font-family='"Liberation Sans", sans-serif' stroke-width="0.25"><text x="18" y="45.7" font-size="12.2" fill="#131722" stroke="#131722" textLength="184.3" lengthAdjust="spacingAndGlyphs">Cardano / TetherUS · 1D · Binance</text><text x="210.1" y="45.7" font-size="12.2" fill="#131722" stroke="#131722" textLength="9.3" lengthAdjust="spacingAndGlyphs">O</text><text x="219.5" y="45.7" font-size="12.2" fill="#26a69a" stroke="#26a69a" textLength="34.8" lengthAdjust="spacingAndGlyphs">0.2509</text><text x="261.8" y="45.7" font-size="12.2" fill="#131722" stroke="#131722" textLength="8.4" lengthAdjust="spacingAndGlyphs">H</text><text x="269.5" y="45.7" font-size="12.2" fill="#26a69a" stroke="#26a69a" textLength="34.6" lengthAdjust="spacingAndGlyphs">0.2601</text><text x="313" y="45.7" font-size="12.2" fill="#131722" stroke="#131722" textLength="6.6" lengthAdjust="spacingAndGlyphs">L</text><text x="319.6" y="45.7" font-size="12.2" fill="#26a69a" stroke="#26a69a" textLength="34.8" lengthAdjust="spacingAndGlyphs">0.2509</text><text x="361.7" y="45.7" font-size="12.2" fill="#131722" stroke="#131722" textLength="8.4" lengthAdjust="spacingAndGlyphs">C</text><text x="369.3" y="45.7" font-size="12.2" fill="#26a69a" stroke="#26a69a" textLength="34.8" lengthAdjust="spacingAndGlyphs">0.2547</text><text x="411.9" y="45.7" font-size="12.2" fill="#26a69a" stroke="#26a69a" textLength="91" lengthAdjust="spacingAndGlyphs">+0.0039 (+1.56%)</text><text x="18" y="63.4" font-size="12.2" fill="#131722" stroke="#131722" textLength="81.8" lengthAdjust="spacingAndGlyphs">EMA (20, close)</text><text x="107.7" y="63.4" font-size="12.2" fill="#2962ff" stroke="#2962ff" textLength="35.8" lengthAdjust="spacingAndGlyphs">0.2533</text><text x="18" y="80" font-size="12.2" fill="#131722" stroke="#131722" textLength="81.8" lengthAdjust="spacingAndGlyphs">SMA (50, close)</text><text x="107.4" y="80" font-size="12.2" fill="#f23645" stroke="#f23645" textLength="35.1" lengthAdjust="spacingAndGlyphs">0.2646</text><text x="10" y="18.8" font-size="12.3" fill="#131722" stroke="#131722" textLength="361.3" lengthAdjust="spacingAndGlyphs">ranadagger created with TradingView.com, Apr 06, 2026 13:10 UTC</text></g><g font-family='"Liberation Sans", sans-serif'><text x="18.6" y="648.3" font-size="11.2" fill="#131722" textLength="75.4" lengthAdjust="spacingAndGlyphs">RSI (14, close)</text><text x="101.8" y="648.3" font-size="11.2" fill="#7e57c2" textLength="29.5" lengthAdjust="spacingAndGlyphs">48.98</text><text x="138.2" y="648.3" font-size="11.2" fill="#fdd835" textLength="30" lengthAdjust="spacingAndGlyphs">43.19</text></g><g fill="#131722"><path d="M12.1 881.3H23.6V895.7H17.8V886.7H12.1Z"/><circle cx="29" cy="883.6" r="2.6"/><path d="M32.6 881.3H41.6L35.8 895.7H29.4Z"/><g font-family='"Liberation Sans", sans-serif'><text x="49.3" y="895.7" font-size="20" fill="#131722" textLength="120.8" lengthAdjust="spacingAndGlyphs" font-weight="bold">TradingView</text></g></g></svg></body></html>
